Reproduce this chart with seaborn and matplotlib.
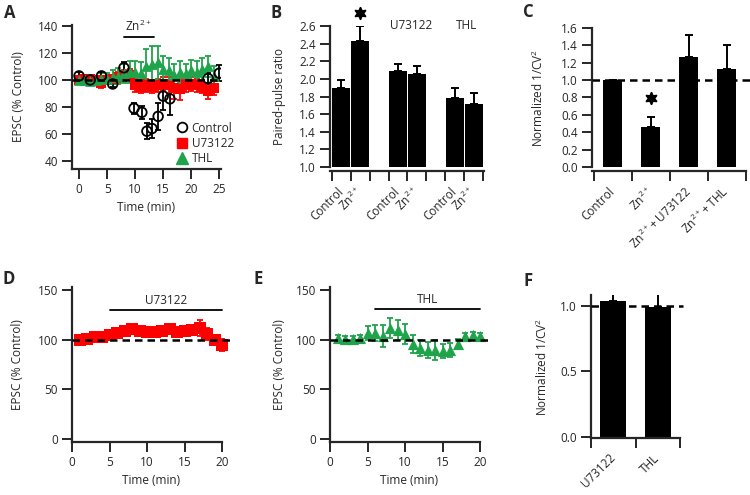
import numpy as np
import pandas as pd
import seaborn as sns
import matplotlib
matplotlib.use('Agg')
import matplotlib.pyplot as plt
from matplotlib.lines import Line2D

sns.set_style('ticks')
plt.rcParams['font.family'] = ['Open Sans', 'DejaVu Sans']
plt.rcParams['mathtext.default'] = 'regular'
plt.rcParams['font.size'] = 8

RED = '#ff0000'
GREEN = '#20a44b'
ZN = 'Zn$^{2+}$'

# ---- data ----
# A: time course, Zn2+ applied 8-13.4 min
ctrl_t = [0, 2, 4, 6, 8, 9.8, 11.2, 12.1, 13.0, 14.1, 15.0, 16.2, 23, 25]
ctrl_v = [103, 100, 103, 97, 109, 79, 76, 62, 64, 73, 88, 86, 101, 105]
ctrl_e = [3, 2, 3, 2, 4, 4, 5, 6, 7, 10, 10, 12, 4, 6]
u_t = list(range(25))
u_v = [100, 101, 101, 100, 98, 100, 101, 102, 103, 104, 96, 95, 96, 95, 96, 97, 96, 94, 93, 96, 97, 96, 95, 92, 94]
u_e = [3, 3, 3, 3, 4, 3, 3, 4, 4, 4, 5, 5, 5, 5, 5, 5, 6, 8, 8, 5, 5, 5, 5, 6, 5]
th_t = list(range(25))
th_v = [100, 100, 99, 100, 101, 101, 102, 103, 105, 106, 106, 105, 110, 112, 113, 108, 107, 104, 106, 105, 107, 106, 108, 110, 103]
th_e = [3, 3, 3, 3, 4, 4, 5, 6, 7, 8, 8, 8, 13, 13, 12, 10, 9, 8, 8, 7, 8, 8, 8, 8, 7]

# B: paired-pulse ratio
b_x = [0.5, 1.5, 3.5, 4.5, 6.5, 7.5]
b_lab = ['Control', ZN, 'Control', ZN, 'Control', ZN]
b_val = [1.90, 2.43, 2.09, 2.06, 1.78, 1.72]
b_err = [0.09, 0.17, 0.08, 0.09, 0.12, 0.12]

# C: normalized 1/CV2
c_x = [0.5, 1.5, 2.5, 3.5]
c_lab = ['Control', ZN, ZN + '+ U73122', ZN + '+ THL']
c_val = [1.0, 0.46, 1.27, 1.13]
c_err = [0.0, 0.12, 0.25, 0.27]

# D: U73122 alone
d_t = list(range(1, 21))
d_v = [100, 101, 103, 103, 105, 107, 109, 111, 109, 108, 108, 109, 111, 108, 109, 110, 112, 106, 100, 95]
d_e = [4, 4, 4, 4, 4, 4, 4, 4, 4, 4, 4, 4, 4, 4, 4, 5, 8, 6, 5, 6]

# E: THL alone
e_t = list(range(1, 21))
e_v = [102, 101, 101, 102, 107, 107, 104, 112, 110, 106, 96, 92, 90, 90, 89, 90, 96, 104, 105, 104]
e_e = [3, 3, 3, 3, 7, 8, 11, 10, 10, 10, 9, 8, 8, 10, 7, 7, 5, 3, 3, 3]

# F
f_x = [0.5, 1.5]
f_lab = ['U73122', 'THL']
f_val = [1.04, 0.99]
f_err = [0.08, 0.12]

W, H = 750, 495
fig = plt.figure(figsize=(7.5, 4.95), dpi=100)


def add_ax(l, t, r, b, offset=0):
    ax = fig.add_axes([l / W, 1 - b / H, (r - l) / W, (b - t) / H])
    # offset has to be set before tick labels are styled (set_position resets ticks)
    sns.despine(ax=ax, offset={'bottom': offset, 'left': 0})
    for s in ['left', 'bottom']:
        ax.spines[s].set_linewidth(1.6)
    ax.tick_params(direction='out', length=7, width=1.4, labelsize=8.5, pad=3)
    return ax


def letter(x, y, s):
    fig.text(x / W, 1 - y / H, s, fontsize=12, fontweight='bold', ha='center', va='center')


def ylab(ax, text, px_right, l, r):
    ax.set_ylabel(text, fontsize=8.5)
    ax.yaxis.set_label_coords((px_right - l) / (r - l), 0.5)


def dashed(ax, x0, x1, y):
    ax.plot([x0, x1], [y, y], color='k', lw=1.8, ls=(0, (3, 2)), zorder=6, clip_on=False)


def trace(ax, t, v, e, marker, color, s, hollow=False):
    ax.errorbar(t, v, yerr=e, fmt='none', ecolor=color, elinewidth=1.3, capsize=2.5, capthick=1.3, zorder=3)
    if hollow:
        sns.scatterplot(x=t, y=v, marker=marker, s=s, facecolor='none', edgecolor=color, linewidth=1.3, ax=ax, zorder=4)
    else:
        sns.scatterplot(x=t, y=v, marker=marker, s=s, color=color, linewidth=0, ax=ax, zorder=4)


def bars(ax, x, val, err, width, labels, nslots):
    sns.barplot(x=x, y=val, native_scale=True, width=width, color='k', saturation=1,
                errorbar=None, linewidth=0, ax=ax, zorder=2)
    ax.errorbar(x, val, yerr=[np.zeros(len(err)), err], fmt='none', ecolor='k',
                elinewidth=1.4, capsize=3, capthick=1.4, zorder=3)
    ax.set_xticks(range(nslots + 1))
    ax.set_xticklabels([])
    ax.set_xticks(x, minor=True)
    ax.set_xticklabels(labels, minor=True, rotation=45, ha='right', va='center',
                       rotation_mode='anchor', fontsize=8.5)
    ax.tick_params(axis='x', which='minor', length=0, pad=13)
    ax.set_xlabel('')


# ---- A ----
axA = add_ax(72, 25, 221, 169)
trace(axA, u_t, u_v, u_e, 's', RED, 42)
trace(axA, th_t, th_v, th_e, '^', GREEN, 60)
trace(axA, ctrl_t, ctrl_v, ctrl_e, 'o', 'k', 48, hollow=True)
axA.set_xlim(-1.25, 25.3)
axA.set_ylim(34, 140.7)
dashed(axA, -1.25, 25.3, 100)
axA.set_xticks([0, 5, 10, 15, 20, 25])
axA.set_yticks([40, 60, 80, 100, 120, 140])
axA.set_xlabel('Time (min)', fontsize=8.5)
ylab(axA, 'EPSC (% Control)', 25, 72, 221)
axA.plot([8, 13.4], [132, 132], color='k', lw=1.3, clip_on=False)
axA.text(10.6, 134, ZN, ha='center', va='bottom', fontsize=8.5)
handles = [Line2D([], [], marker='o', ls='none', mfc='none', mec='k', mew=1.3, ms=7),
           Line2D([], [], marker='s', ls='none', color=RED, ms=7),
           Line2D([], [], marker='^', ls='none', color=GREEN, ms=8)]
axA.legend(handles, ['Control', 'U73122', 'THL'], loc='upper left', bbox_to_anchor=(0.66, 0.37),
           frameon=False, handletextpad=0.3, labelspacing=0.2, borderpad=0, handlelength=1.0,
           fontsize=8.5)

# ---- B ----
axB = add_ax(330, 26, 484, 167, offset=3)
bars(axB, b_x, b_val, b_err, 0.95, b_lab, 8)
axB.set_xlim(-0.1, 8.05)
axB.set_ylim(1.0, 2.6)
axB.set_yticks(np.arange(1.0, 2.61, 0.2))
axB.set_yticklabels([f'{v:.1f}' for v in np.arange(1.0, 2.61, 0.2)])
ylab(axB, 'Paired-pulse ratio', 286, 330, 484)
axB.plot(1.5, 2.75, marker=(6, 1, 0), ms=9, color='k', clip_on=False)
axB.text(4.2, 2.6, 'U73122', ha='center', va='center', fontsize=8.5)
axB.text(7.1, 2.6, 'THL', ha='center', va='center', fontsize=8.5)

# ---- C ----
axC = add_ax(592, 28, 746, 167, offset=3)
bars(axC, c_x, c_val, c_err, 0.5, c_lab, 4)
axC.set_xlim(-0.05, 4)
axC.set_ylim(0, 1.6)
axC.set_yticks(np.arange(0, 1.61, 0.2))
axC.set_yticklabels([f'{v:.1f}' for v in np.arange(0, 1.61, 0.2)])
ylab(axC, 'Normalized 1/CV$^2$', 546, 592, 746)
dashed(axC, -0.05, 4.12, 1.0)
axC.plot(1.5, 0.79, marker=(6, 1, 0), ms=9, color='k')

# ---- D ----
axD = add_ax(72, 287, 230, 442)
trace(axD, d_t, d_v, d_e, 's', RED, 70)
axD.set_xlim(0, 21.05)
axD.set_ylim(-3, 153)
dashed(axD, 0, 21, 100)
axD.spines['bottom'].set_bounds(0, 20)
axD.set_xticks([0, 5, 10, 15, 20])
axD.set_yticks([0, 50, 100, 150])
axD.set_xlabel('Time (min)', fontsize=8.5)
ylab(axD, 'EPSC (% Control)', 24, 72, 230)
axD.plot([5, 20], [130, 130], color='k', lw=1.3)
axD.text(12.5, 133, 'U73122', ha='center', va='bottom', fontsize=8.5)

# ---- E ----
axE = add_ax(330, 287, 488, 442)
trace(axE, e_t, e_v, e_e, '^', GREEN, 65)
axE.set_xlim(0, 21.05)
axE.set_ylim(-3, 153)
dashed(axE, 0, 21, 100)
axE.spines['bottom'].set_bounds(0, 20)
axE.set_xticks([0, 5, 10, 15, 20])
axE.set_yticks([0, 50, 100, 150])
axE.set_xlabel('Time (min)', fontsize=8.5)
ylab(axE, 'EPSC (% Control)', 286, 330, 488)
axE.plot([6, 20], [131, 131], color='k', lw=1.3)
axE.text(13, 134, 'THL', ha='center', va='bottom', fontsize=8.5)

# ---- F ----
axF = add_ax(591, 295, 680, 438)
bars(axF, f_x, f_val, f_err, 0.58, f_lab, 2)
axF.set_xlim(0, 2)
axF.set_ylim(-0.008, 1.084)
axF.set_yticks([0, 0.5, 1.0])
axF.set_yticklabels(['0.0', '0.5', '1.0'])
ylab(axF, 'Normalized 1/CV$^2$', 550, 591, 680)
dashed(axF, 0, 2.07, 1.0)

letter(10, 13, 'A')
letter(276, 13, 'B')
letter(528, 12, 'C')
letter(9, 279, 'D')
letter(258, 279, 'E')
letter(528, 281, 'F')

fig.savefig('out.png', dpi=100)
